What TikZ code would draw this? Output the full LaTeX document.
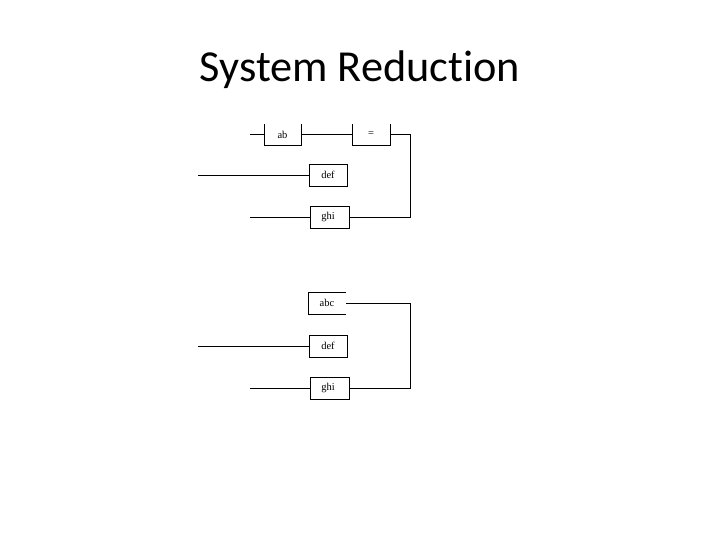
\documentclass[tikz,border=0pt]{standalone}
\usepackage{fontspec}
\setmainfont[Ligatures=NoCommon]{Carlito}
\newfontfamily\boxfont{Liberation Serif}
\tikzset{
  wire/.style={line width=0.9pt,black},
  blockbox/.style={anchor=north west,inner sep=0pt,outer sep=0pt,font=\boxfont\fontsize{10.5}{10.5}\selectfont,align=center},
  closedbox/.style={blockbox,draw,line width=0.9pt},
}
\begin{document}
\begin{tikzpicture}[x=1pt,y=-1pt]
\useasboundingbox (0,0) rectangle (720,540);
\node[font=\fontsize{44.3}{44.3}\selectfont,inner sep=0pt] (title) at (360,70) {System Reduction};
% upper group
\node[closedbox,draw=none,minimum width=37pt,minimum height=21pt] (ab) at (264,124) {ab};
\node[closedbox,draw=none,minimum width=38pt,minimum height=21pt] (eq) at (352,124) {\raisebox{-2pt}{=}};
\node[closedbox,minimum width=38pt,minimum height=22pt] (def1) at (309,164) {def};
\node[closedbox,minimum width=39pt,minimum height=22pt] (ghi1) at (310,206) {\kern-3pt ghi};
\draw[wire] (ab.north west) -- (ab.south west) -- (ab.south east) -- (ab.north east);
\draw[wire] (eq.north west) -- (eq.south west) -- (eq.south east) -- (eq.north east);
\coordinate (inA) at (250,134.5);
\coordinate (inB) at (198,175);
\coordinate (inC) at (250,217);
\coordinate (turn1) at (410.5,134.5);
\draw[wire] (inA) -- (inA -| ab.west);
\draw[wire] (ab.east |- inA) -- (eq.west |- inA);
\draw[wire] (eq.east |- inA) -- (turn1) |- (ghi1.east);
\draw[wire] (inB) -- (def1.west);
\draw[wire] (inC) -- (ghi1.west);
% lower group
\node[closedbox,draw=none,minimum width=38pt,minimum height=22pt] (abc) at (308,292) {abc};
\node[closedbox,minimum width=38pt,minimum height=22pt] (def2) at (309,335) {def};
\node[closedbox,minimum width=39pt,minimum height=22pt] (ghi2) at (310,377) {\kern-3pt ghi};
\draw[wire] (abc.north east) -- (abc.north west) -- (abc.south west) -- (abc.south east);
\coordinate (inD) at (198,346);
\coordinate (inE) at (250,388);
\coordinate (turn2) at (410.5,303);
\draw[wire] (abc.east) -- (turn2) |- (ghi2.east);
\draw[wire] (inD) -- (def2.west);
\draw[wire] (inE) -- (ghi2.west);
\end{tikzpicture}
\end{document}
